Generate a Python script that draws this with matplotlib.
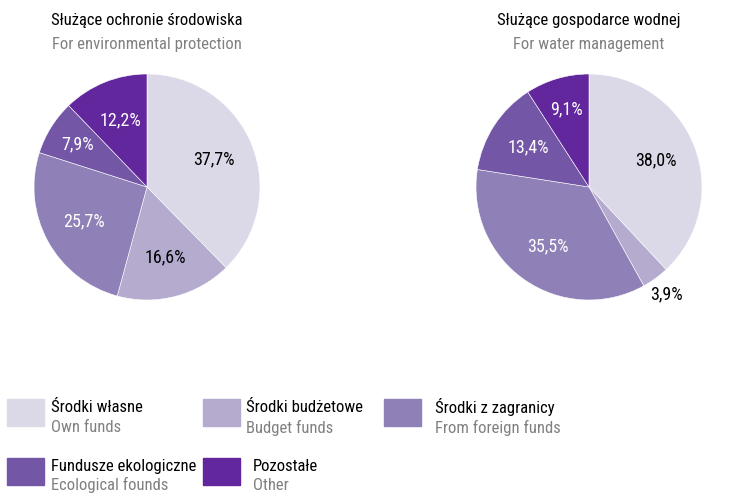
import matplotlib.pyplot as plt
import matplotlib.patches as mpatches
import numpy as np

plt.rcParams['font.family'] = ['Roboto Condensed', 'Roboto', 'DejaVu Sans']

labels_pl = ['Środki własne', 'Środki budżetowe', 'Środki z zagranicy',
             'Fundusze ekologiczne', 'Pozostałe']
labels_en = ['Own funds', 'Budget funds', 'From foreign funds',
             'Ecological founds', 'Other']
colors = ['#dbd8e8', '#b4abcf', '#9080b8', '#7356a6', '#62279c']
txt_colors = ['black', 'black', 'white', 'white', 'white']

env_vals = [37.7, 16.6, 25.7, 7.9, 12.2]
water_vals = [38.0, 3.9, 35.5, 13.4, 9.1]

titles_pl = ['Służące ochronie środowiska', 'Służące gospodarce wodnej']
titles_en = ['For environmental protection', 'For water management']

W, H = 756, 494
FS = 12
fig = plt.figure(figsize=(W / 100, H / 100), dpi=100)

centres = [(147, 187), (589, 187)]
R = 113


def draw_pie(cx, cy, vals, t_pl, t_en):
    ax = fig.add_axes([(cx - R) / W, (H - cy - R) / H, 2 * R / W, 2 * R / H])
    wedges, _ = ax.pie(vals, colors=colors, startangle=90, counterclock=False,
                       wedgeprops=dict(edgecolor='white', linewidth=0.4))
    ax.set_xlim(-1, 1)
    ax.set_ylim(-1, 1)
    for w, v, tc in zip(wedges, vals, txt_colors):
        ang = np.deg2rad((w.theta1 + w.theta2) / 2)
        if v < 5:
            d = 1.17
            tc = 'black'
        elif v < 10:
            d = 0.72
        else:
            d = 0.64
        ax.text(d * np.cos(ang), d * np.sin(ang), ('%.1f%%' % v).replace('.', ','),
                ha='center', va='center', color=tc, fontsize=FS + 1)
    fig.text(cx / W, 1 - 20 / H, t_pl, ha='center', va='center', fontsize=FS)
    fig.text(cx / W, 1 - 44 / H, t_en, ha='center', va='center', fontsize=FS,
             color='#808080')


draw_pie(*centres[0], env_vals, titles_pl[0], titles_en[0])
draw_pie(*centres[1], water_vals, titles_pl[1], titles_en[1])

# legend, drawn by hand
leg_x = [7, 203, 384]
leg_tx = [51, 246, 435]
leg_y = [399, 458]
for i in range(5):
    col, row = i % 3, i // 3
    x, y = leg_x[col], leg_y[row]
    fig.patches.append(mpatches.Rectangle((x / W, 1 - (y + 27) / H), 37 / W, 27 / H,
                                          transform=fig.transFigure, color=colors[i]))
    tx = leg_tx[col] if i != 4 else 253
    fig.text(tx / W, 1 - (y + 8) / H, labels_pl[i], ha='left', va='center', fontsize=FS)
    fig.text(tx / W, 1 - (y + 29 - row * 2) / H, labels_en[i], ha='left', va='center',
             fontsize=FS, color='#808080')

plt.savefig('out.png', dpi=100)
